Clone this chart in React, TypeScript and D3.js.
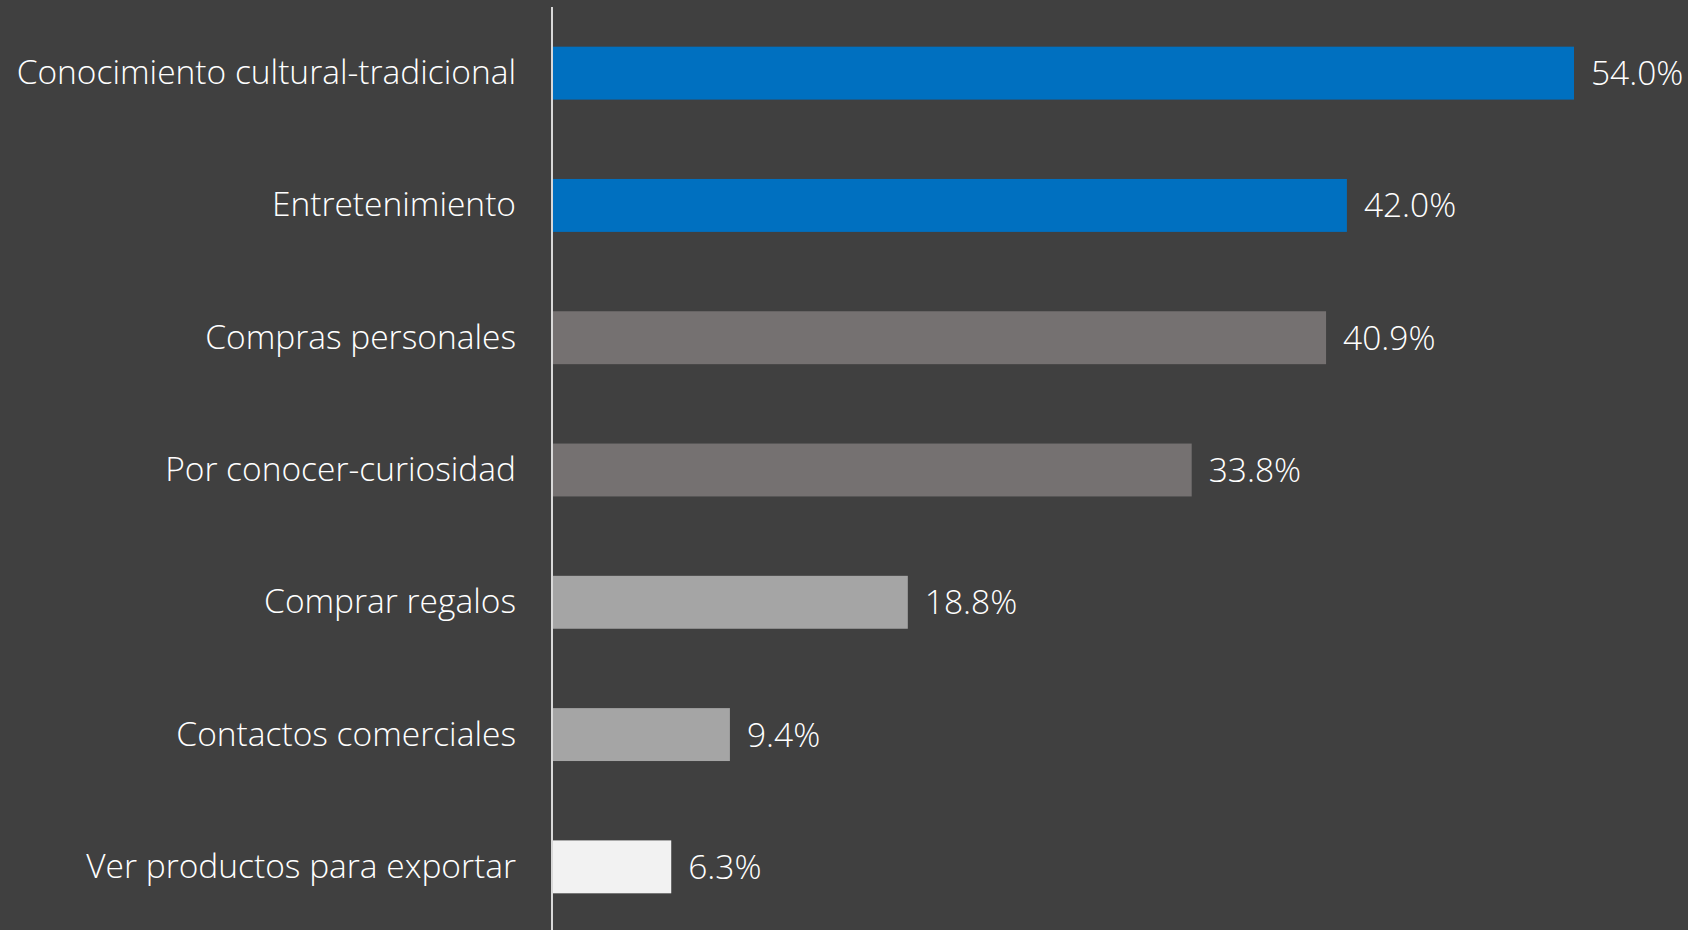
import * as d3 from 'd3';

const categories = [
  'Conocimiento cultural-tradicional',
  'Entretenimiento',
  'Compras personales',
  'Por conocer-curiosidad',
  'Comprar regalos',
  'Contactos comerciales',
  'Ver productos para exportar',
];
const values = [54.0, 42.0, 40.9, 33.8, 18.8, 9.4, 6.3];
const barColours = ['#0070C0', '#0070C0', '#757171', '#757171', '#A5A5A5', '#A5A5A5', '#F2F2F2'];

const width = 1688;
const height = 930;
const axisX = 552;
const font = '"Open Sans", Lato, sans-serif';

export default function App() {
  const x = d3.scaleLinear().domain([0, 54]).range([axisX, 1574]);
  const y = d3.scaleBand<string>()
    .domain(categories)
    .range([7, 933])
    .paddingInner(0.6)
    .paddingOuter(0.3);

  return (
    <svg
      width={width}
      height={height}
      style={{ position: 'fixed', left: 0, top: 0, display: 'block', background: '#404040' }}
    >
      <rect width={width} height={height} fill="#404040" />
      {categories.map((c, i) => {
        const y0 = y(c) ?? 0;
        const cy = y0 + y.bandwidth() / 2;
        return (
          <g key={c}>
            <rect
              x={x(0)}
              y={y0}
              width={x(values[i]) - x(0)}
              height={y.bandwidth()}
              fill={barColours[i]}
            />
            <text
              x={516}
              y={cy + 11}
              textAnchor="end"
              fill="#FFFFFF"
              fontFamily={font}
              fontWeight={300}
              fontSize={33.5}
            >
              {c}
            </text>
            <text
              x={x(values[i]) + 17}
              y={cy + 12}
              fill="#FFFFFF"
              fontFamily={font}
              fontWeight={300}
              fontSize={33.5}
            >
              {values[i].toFixed(1)}%
            </text>
          </g>
        );
      })}
      <line x1={axisX} x2={axisX} y1={7} y2={height} stroke="#D9D9D9" strokeWidth={2} />
    </svg>
  );
}
